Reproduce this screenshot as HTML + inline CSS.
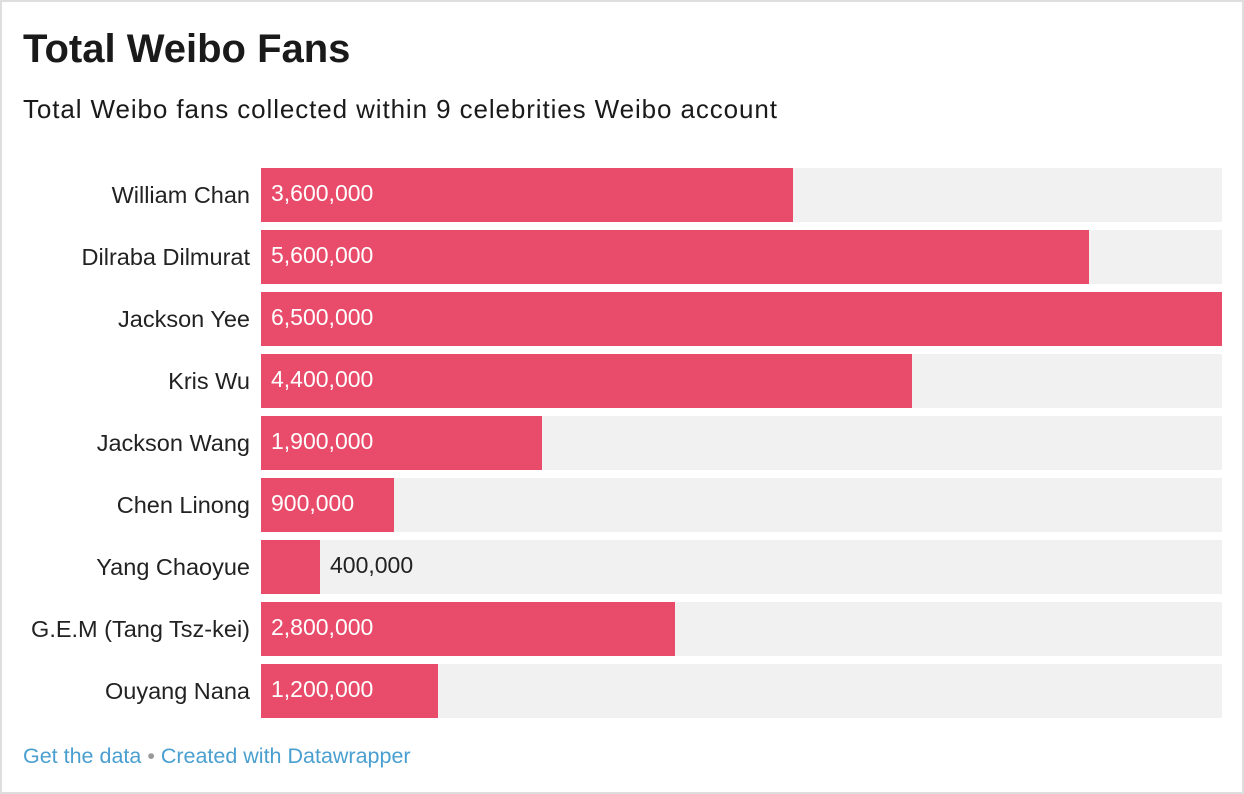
<!DOCTYPE html>
<html><head><meta charset="utf-8"><style>
body{margin:0;width:1244px;height:794px;background:#fff;font-family:"Liberation Sans",sans-serif;position:relative;overflow:hidden}
.frame{position:absolute;left:0;top:0;width:1240px;height:790px;border:2px solid #dedede}
.t{position:absolute;left:23px;top:27px;font-size:40px;font-weight:bold;color:#1a1a1a}
.s{position:absolute;left:23px;top:94px;font-size:26px;letter-spacing:0.9px;color:#1a1a1a}
.row{position:absolute;left:0;width:1244px;height:54px}
.lab{position:absolute;right:994px;top:0;line-height:54px;font-size:23.5px;color:#222;white-space:nowrap}
.bg{position:absolute;left:261px;top:0;width:961px;height:54px;background:#f1f1f1}
.bar{position:absolute;left:261px;top:0;height:54px;background:#e94b6a}
.v{position:absolute;top:0;line-height:50px;font-size:23px;color:#fff;white-space:nowrap}
.f{position:absolute;left:23px;top:744px;font-size:21.5px;color:#4a9fd0}
</style></head><body>
<div class="frame"></div>
<div class="t">Total Weibo Fans</div>
<div class="s">Total Weibo fans collected within 9 celebrities Weibo account</div>
<div class="row" style="top:168px"><div class="lab">William Chan</div><div class="bg"></div><div class="bar" style="width:532px"></div><div class="v" style="left:271px">3,600,000</div></div>
<div class="row" style="top:230px"><div class="lab">Dilraba Dilmurat</div><div class="bg"></div><div class="bar" style="width:828px"></div><div class="v" style="left:271px">5,600,000</div></div>
<div class="row" style="top:292px"><div class="lab">Jackson Yee</div><div class="bg"></div><div class="bar" style="width:961px"></div><div class="v" style="left:271px">6,500,000</div></div>
<div class="row" style="top:354px"><div class="lab">Kris Wu</div><div class="bg"></div><div class="bar" style="width:651px"></div><div class="v" style="left:271px">4,400,000</div></div>
<div class="row" style="top:416px"><div class="lab">Jackson Wang</div><div class="bg"></div><div class="bar" style="width:281px"></div><div class="v" style="left:271px">1,900,000</div></div>
<div class="row" style="top:478px"><div class="lab">Chen Linong</div><div class="bg"></div><div class="bar" style="width:133px"></div><div class="v" style="left:271px">900,000</div></div>
<div class="row" style="top:540px"><div class="lab">Yang Chaoyue</div><div class="bg"></div><div class="bar" style="width:59px"></div><div class="v" style="left:330px;color:#222">400,000</div></div>
<div class="row" style="top:602px"><div class="lab">G.E.M (Tang Tsz-kei)</div><div class="bg"></div><div class="bar" style="width:414px"></div><div class="v" style="left:271px">2,800,000</div></div>
<div class="row" style="top:664px"><div class="lab">Ouyang Nana</div><div class="bg"></div><div class="bar" style="width:177px"></div><div class="v" style="left:271px">1,200,000</div></div>
<div class="f">Get the data <span style="color:#999">•</span> Created with Datawrapper</div>
</body></html>
